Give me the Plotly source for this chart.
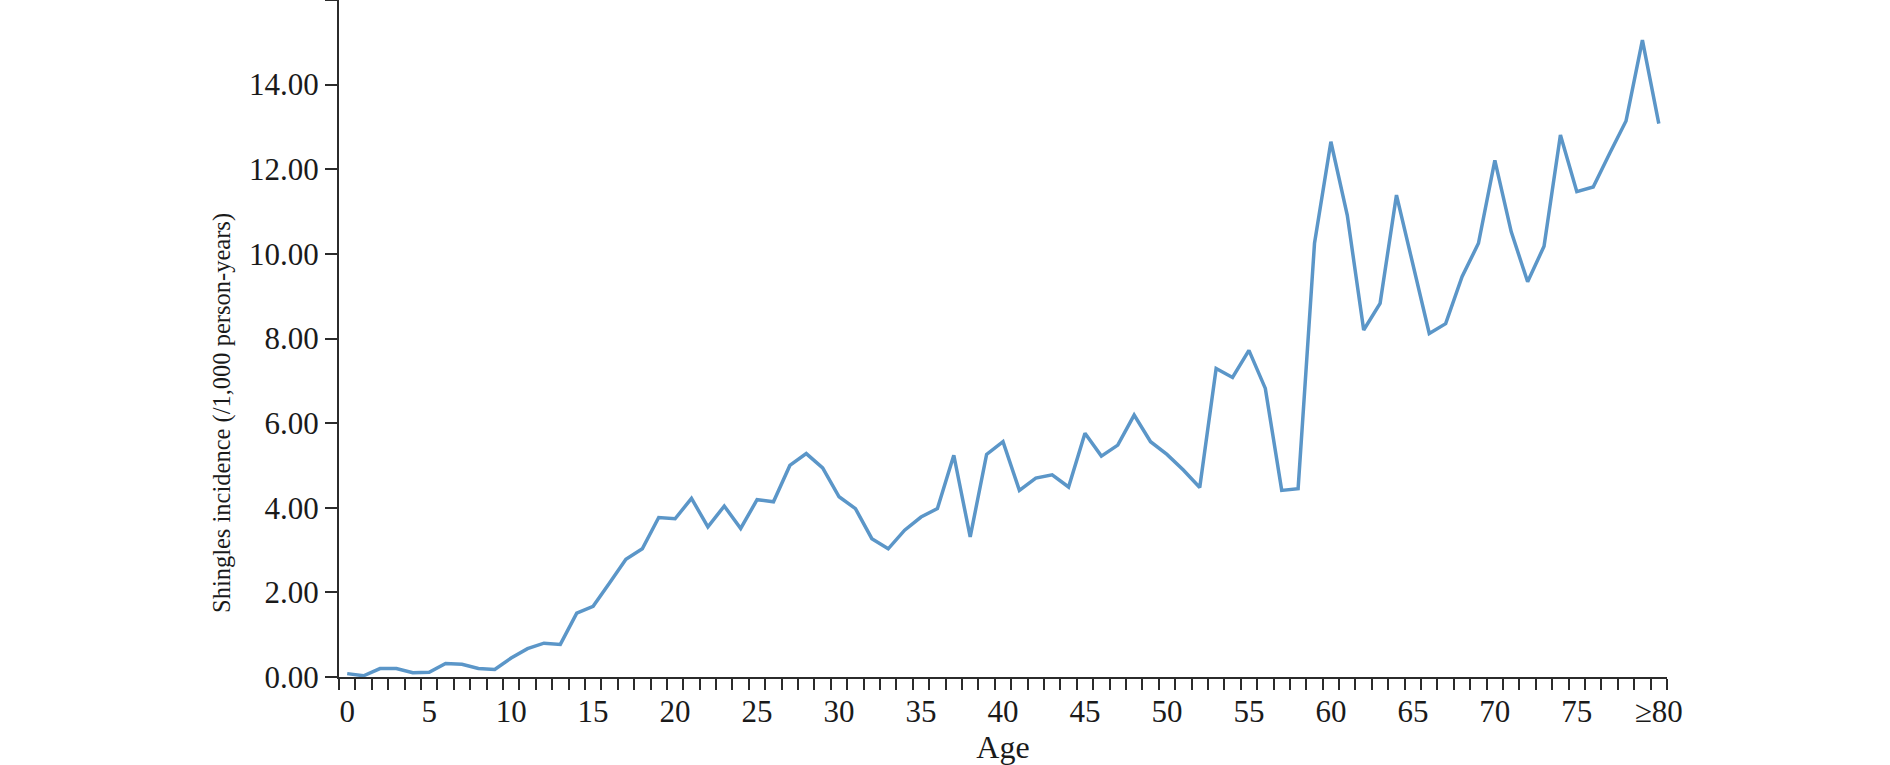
import plotly.graph_objects as go

# Data
ages = list(range(0, 81))  # 80 represents ">=80"
incidence = [
    0.08, 0.03, 0.20, 0.20, 0.10, 0.11, 0.32, 0.30, 0.20, 0.18,   # 0-9
    0.45, 0.67, 0.80, 0.77, 1.51, 1.67, 2.22, 2.78, 3.03, 3.77,   # 10-19
    3.74, 4.22, 3.55, 4.04, 3.51, 4.19, 4.14, 5.00, 5.28, 4.94,   # 20-29
    4.26, 3.98, 3.27, 3.03, 3.47, 3.78, 3.98, 5.24, 3.31, 5.26,   # 30-39
    5.56, 4.41, 4.70, 4.78, 4.49, 5.76, 5.22, 5.48, 6.19, 5.56,   # 40-49
    5.26, 4.89, 4.48, 7.29, 7.08, 7.72, 6.82, 4.41, 4.45, 10.25,  # 50-59
    12.65, 10.91, 8.20, 8.83, 11.39, 9.77, 8.12, 8.35, 9.46, 10.25,  # 60-69
    12.21, 10.52, 9.34, 10.18, 12.81, 11.47, 11.58, 12.37, 13.14, 15.05,  # 70-79
    13.08,  # >=80
]

x_tickvals = [0, 5, 10, 15, 20, 25, 30, 35, 40, 45, 50, 55, 60, 65, 70, 75, 80]
x_ticktext = ["0", "5", "10", "15", "20", "25", "30", "35", "40", "45",
              "50", "55", "60", "65", "70", "75", "\u226580"]
y_tickvals = [0, 2, 4, 6, 8, 10, 12, 14, 16]
y_ticktext = ["0.00", "2.00", "4.00", "6.00", "8.00", "10.00", "12.00", "14.00", ""]

FONT = "Liberation Serif"
AXIS_COLOR = "#2b2b2b"
TEXT_COLOR = "#1a1a1a"

fig = go.Figure()
fig.add_trace(go.Scatter(
    x=ages, y=incidence, mode="lines",
    line=dict(color="#5b96c8", width=3.5),
    showlegend=False, hoverinfo="x+y",
))

fig.update_layout(
    width=1890, height=765,
    margin=dict(l=339, r=223, t=0, b=88),
    paper_bgcolor="white", plot_bgcolor="white",
    font=dict(family=FONT, size=31, color=TEXT_COLOR),
    showlegend=False,
)

fig.update_xaxes(
    range=[-0.5, 80.5],
    tickmode="array", tickvals=x_tickvals, ticktext=x_ticktext,
    ticks="", ticklabelstandoff=6,
    showgrid=False, zeroline=False,
    showline=True, linecolor=AXIS_COLOR, linewidth=2,
    tickfont=dict(family=FONT, size=31, color=TEXT_COLOR),
    minor=dict(ticks="outside", tick0=-0.5, dtick=1, ticklen=11,
               tickwidth=2, tickcolor=AXIS_COLOR, showgrid=False),
    title=dict(text="Age", font=dict(family=FONT, size=32, color=TEXT_COLOR), standoff=1),
    automargin=False,
)

fig.update_yaxes(
    range=[0, 16],
    tickmode="array", tickvals=y_tickvals, ticktext=y_ticktext,
    ticks="outside", ticklen=12, tickwidth=2, tickcolor=AXIS_COLOR,
    showgrid=False, zeroline=False,
    showline=True, linecolor=AXIS_COLOR, linewidth=2,
    tickfont=dict(family=FONT, size=31, color=TEXT_COLOR),
    automargin=False,
)

fig.add_annotation(
    text="Shingles incidence (/1,000 person-years)",
    xref="paper", yref="paper",
    x=(222 - 339) / 1328, y=(677 - 413) / 677,
    xanchor="center", yanchor="middle",
    textangle=-90, showarrow=False,
    font=dict(family=FONT, size=24.5, color=TEXT_COLOR),
)

fig.write_html("out.html", config={"displayModeBar": False},
               post_script="document.body.style.margin='0px';")
